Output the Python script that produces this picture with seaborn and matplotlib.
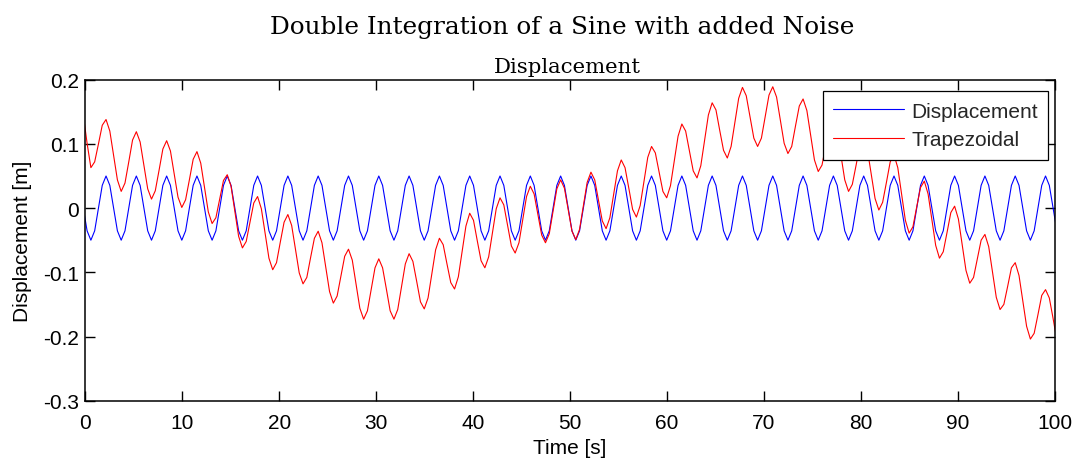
import numpy as np
import pandas as pd
import matplotlib
matplotlib.use("Agg")
import matplotlib.pyplot as plt
import seaborn as sns

# ---------------- text ----------------
title = "Double Integration of a Sine with added Noise"
subtitle = "Displacement"
x_label = "Time [s]"
y_label = "Displacement [m]"
series_names = ["Displacement", "Trapezoidal"]
x_ticks = [0, 10, 20, 30, 40, 50, 60, 70, 80, 90, 100]
x_tick_labels = ["0", "10", "20", "30", "40", "50", "60", "70", "80", "90", "100"]
y_ticks = [-0.3, -0.2, -0.1, 0.0, 0.1, 0.2]
y_tick_labels = ["-0.3", "-0.2", "-0.1", "0", "0.1", "0.2"]

# ---------------- data ----------------
sample_start = -0.1953125   # s, first sample
sample_step = 0.390625      # s, sampling interval

displacement = [
    0, -0.0354, -0.05, -0.0354, 0, 0.0354, 0.05, 0.0354,
    0, -0.0354, -0.05, -0.0354, 0, 0.0354, 0.05, 0.0354,
    0, -0.0354, -0.05, -0.0354, 0, 0.0354, 0.05, 0.0354,
    0, -0.0354, -0.05, -0.0354, 0, 0.0354, 0.05, 0.0354,
    0, -0.0354, -0.05, -0.0354, 0, 0.0354, 0.05, 0.0354,
    0, -0.0354, -0.05, -0.0354, 0, 0.0354, 0.05, 0.0354,
    0, -0.0354, -0.05, -0.0354, 0, 0.0354, 0.05, 0.0354,
    0, -0.0354, -0.05, -0.0354, 0, 0.0354, 0.05, 0.0354,
    0, -0.0354, -0.05, -0.0354, 0, 0.0354, 0.05, 0.0354,
    0, -0.0354, -0.05, -0.0354, 0, 0.0354, 0.05, 0.0354,
    0, -0.0354, -0.05, -0.0354, 0, 0.0354, 0.05, 0.0354,
    0, -0.0354, -0.05, -0.0354, 0, 0.0354, 0.05, 0.0354,
    0, -0.0354, -0.05, -0.0354, 0, 0.0354, 0.05, 0.0354,
    0, -0.0354, -0.05, -0.0354, 0, 0.0354, 0.05, 0.0354,
    0, -0.0354, -0.05, -0.0354, 0, 0.0354, 0.05, 0.0354,
    0, -0.0354, -0.05, -0.0354, 0, 0.0354, 0.05, 0.0354,
    0, -0.0354, -0.05, -0.0354, 0, 0.0354, 0.05, 0.0354,
    0, -0.0354, -0.05, -0.0354, 0, 0.0354, 0.05, 0.0354,
    0, -0.0354, -0.05, -0.0354, 0, 0.0354, 0.05, 0.0354,
    0, -0.0354, -0.05, -0.0354, 0, 0.0354, 0.05, 0.0354,
    0, -0.0354, -0.05, -0.0354, 0, 0.0354, 0.05, 0.0354,
    0, -0.0354, -0.05, -0.0354, 0, 0.0354, 0.05, 0.0354,
    0, -0.0354, -0.05, -0.0354, 0, 0.0354, 0.05, 0.0354,
    0, -0.0354, -0.05, -0.0354, 0, 0.0354, 0.05, 0.0354,
    0, -0.0354, -0.05, -0.0354, 0, 0.0354, 0.05, 0.0354,
    0, -0.0354, -0.05, -0.0354, 0, 0.0354, 0.05, 0.0354,
    0, -0.0354, -0.05, -0.0354, 0, 0.0354, 0.05, 0.0354,
    0, -0.0354, -0.05, -0.0354, 0, 0.0354, 0.05, 0.0354,
    0, -0.0354, -0.05, -0.0354, 0, 0.0354, 0.05, 0.0354,
    0, -0.0354, -0.05, -0.0354, 0, 0.0354, 0.05, 0.0354,
    0, -0.0354, -0.05, -0.0354, 0, 0.0354, 0.05, 0.0354,
    0, -0.0354, -0.05, -0.0354, 0, 0.0354, 0.05, 0.0354,
    0, -0.0354,
]

trapezoidal = [
    0.145, 0.101, 0.063, 0.072, 0.100, 0.129, 0.138, 0.120,
    0.082, 0.044, 0.026, 0.039, 0.072, 0.106, 0.119, 0.103,
    0.066, 0.030, 0.014, 0.027, 0.059, 0.092, 0.105, 0.089,
    0.053, 0.017, 0.001, 0.013, 0.044, 0.076, 0.088, 0.070,
    0.032, -0.006, -0.024, -0.015, 0.014, 0.043, 0.052, 0.034,
    -0.005, -0.044, -0.062, -0.052, -0.022, 0.008, 0.018, -0.001,
    -0.039, -0.078, -0.096, -0.085, -0.053, -0.022, -0.010, -0.027,
    -0.064, -0.101, -0.118, -0.108, -0.077, -0.047, -0.036, -0.054,
    -0.092, -0.130, -0.148, -0.137, -0.106, -0.075, -0.064, -0.081,
    -0.119, -0.156, -0.173, -0.160, -0.126, -0.093, -0.079, -0.093,
    -0.126, -0.160, -0.173, -0.158, -0.122, -0.087, -0.071, -0.083,
    -0.114, -0.146, -0.157, -0.140, -0.102, -0.065, -0.047, -0.057,
    -0.087, -0.116, -0.126, -0.107, -0.067, -0.028, -0.008, -0.019,
    -0.051, -0.082, -0.093, -0.076, -0.039, -0.001, 0.016, 0.005,
    -0.027, -0.059, -0.070, -0.054, -0.018, 0.018, 0.034, 0.022,
    -0.010, -0.042, -0.054, -0.040, -0.005, 0.030, 0.044, 0.031,
    -0.003, -0.036, -0.049, -0.033, 0.004, 0.040, 0.056, 0.044,
    0.012, -0.020, -0.032, -0.015, 0.022, 0.058, 0.075, 0.063,
    0.031, -0.002, -0.014, 0.004, 0.041, 0.079, 0.096, 0.086,
    0.056, 0.026, 0.016, 0.035, 0.074, 0.112, 0.131, 0.120,
    0.089, 0.058, 0.047, 0.066, 0.106, 0.145, 0.164, 0.153,
    0.121, 0.090, 0.078, 0.096, 0.133, 0.171, 0.188, 0.175,
    0.142, 0.109, 0.096, 0.109, 0.143, 0.176, 0.189, 0.173,
    0.137, 0.101, 0.085, 0.096, 0.128, 0.159, 0.170, 0.152,
    0.114, 0.075, 0.057, 0.067, 0.098, 0.128, 0.138, 0.120,
    0.082, 0.044, 0.026, 0.037, 0.067, 0.098, 0.108, 0.090,
    0.053, 0.015, -0.003, 0.009, 0.040, 0.072, 0.083, 0.063,
    0.022, -0.019, -0.039, -0.029, 0.002, 0.032, 0.042, 0.022,
    -0.018, -0.058, -0.078, -0.068, -0.038, -0.007, 0.003, -0.017,
    -0.057, -0.097, -0.117, -0.108, -0.079, -0.050, -0.041, -0.060,
    -0.100, -0.139, -0.158, -0.150, -0.122, -0.093, -0.085, -0.105,
    -0.145, -0.184, -0.204, -0.195, -0.166, -0.136, -0.127, -0.140,
    -0.172, -0.206,
]

time_s = sample_start + sample_step * np.arange(len(displacement))
df = pd.DataFrame({"time": time_s,
                   series_names[0]: displacement,
                   series_names[1]: trapezoidal})

# ---------------- style ----------------
sns.set_theme(style="white")
plt.rcParams["font.family"] = ["Liberation Sans", "DejaVu Sans"]
plt.rcParams["axes.unicode_minus"] = False
plt.rcParams.update({
    "xtick.bottom": True, "xtick.top": True,
    "ytick.left": True, "ytick.right": True,
    "xtick.direction": "in", "ytick.direction": "in",
    "xtick.major.size": 7, "ytick.major.size": 7,
    "xtick.major.width": 1.0, "ytick.major.width": 1.0,
    "xtick.color": "black", "ytick.color": "black",
})

W, H = 1078, 464
fig = plt.figure(figsize=(W / 100, H / 100), dpi=100)
fig.patch.set_facecolor("white")
ax_l, ax_r, ax_t, ax_b = 85.2, 1055.0, 80.7, 401.7
ax = fig.add_axes([ax_l / W, 1 - ax_b / H, (ax_r - ax_l) / W, (ax_b - ax_t) / H])
ax.set_facecolor("white")

sns.lineplot(data=df, x="time", y=series_names[0], color="#0000ff",
             linewidth=0.8, label=series_names[0], ax=ax, sort=False)
sns.lineplot(data=df, x="time", y=series_names[1], color="#ff0000",
             linewidth=0.8, label=series_names[1], ax=ax, sort=False)

ax.set_xlim(0, 100)
ax.set_ylim(-0.3, 0.2)
ax.set_xticks(x_ticks)
ax.set_xticklabels(x_tick_labels)
ax.set_yticks(y_ticks)
ax.set_yticklabels(y_tick_labels)

ax.tick_params(axis="both", which="major", direction="in", length=7, width=1.0,
               color="black", labelcolor="black", labelsize=15,
               top=True, right=True, bottom=True, left=True)
ax.tick_params(axis="x", pad=8.5)
ax.tick_params(axis="y", pad=4.5)
for s in ax.spines.values():
    s.set_visible(True)
    s.set_color("black")
    s.set_linewidth(1.1)

ax.set_xlabel(x_label, fontsize=15, labelpad=5, color="black")
ax.set_ylabel(y_label, fontsize=15, labelpad=8, color="black")

fig.text(562.0 / W, 1 - 33.7 / H, title, ha="center", va="baseline",
         fontsize=17.8, family=["DejaVu Serif"], color="black")
fig.text(567.5 / W, 1 - 72.7 / H, subtitle, ha="center", va="baseline",
         fontsize=15.3, family=["DejaVu Serif"], color="black")

leg = ax.legend(loc="upper right",
                bbox_to_anchor=((1048.3 - ax_l) / (ax_r - ax_l),
                                (ax_b - 92.3) / (ax_b - ax_t)),
                borderaxespad=0, fontsize=15, frameon=True, fancybox=False,
                edgecolor="black", framealpha=1, handlelength=3.4,
                handletextpad=0.34, labelspacing=0.45, borderpad=0.5)
leg.get_frame().set_linewidth(0.9)
for line in leg.get_lines():
    line.set_linewidth(0.8)

fig.savefig("out.png", dpi=100, facecolor="white")
